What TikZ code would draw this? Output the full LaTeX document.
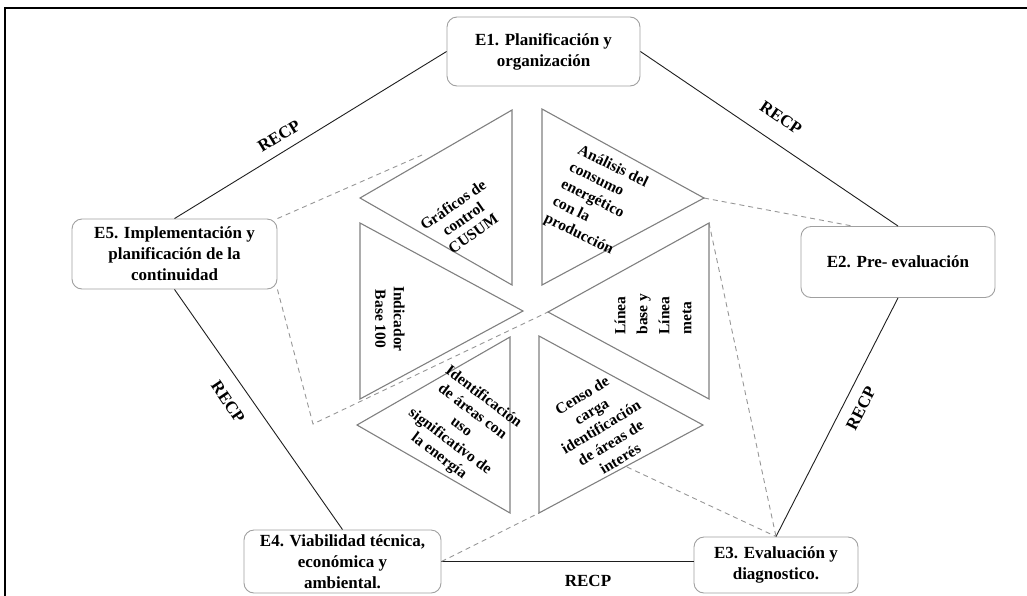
\documentclass[tikz,border=0pt]{standalone}
\usepackage{fontspec}
\setmainfont{Liberation Serif}
\usetikzlibrary{calc}
\definecolor{triline}{RGB}{128,128,128}
\definecolor{boxline}{RGB}{160,160,160}
\definecolor{dashline}{RGB}{150,150,150}
\definecolor{solidline}{RGB}{30,30,30}
\begin{document}
\begin{tikzpicture}[x=1pt,y=1pt,
  ebox/.style={draw=boxline, line width=0.9pt, rounded corners=10pt, fill=white, align=center,
    font=\bfseries\fontsize{17}{21}\selectfont, inner sep=0pt},
  tri/.style={draw=triline, line width=1.1pt, fill=white, line join=miter},
  trit/.style={align=center, font=\bfseries\fontsize{15.5}{18.5}\selectfont, inner sep=0pt},
  cyc/.style={draw=solidline, line width=0.9pt},
  dsh/.style={draw=dashline, line width=0.9pt, dash pattern=on 5pt off 4pt},
  recp/.style={font=\bfseries\fontsize{17}{20}\selectfont, inner sep=0pt}
  ]
\useasboundingbox (0,0) rectangle (1027,-595);
\begin{scope}
\clip (0,0) rectangle (1027,-595);
\draw[line width=1.8pt, black] (5,-620) |- (1060,-8);
\end{scope}

% boxes
\node[ebox, minimum width=193pt, minimum height=69pt] (E1) at (543.5,-51.5) {E1. Planificación y\\organización};
\node[ebox, minimum width=194pt, minimum height=71pt] (E2) at (898,-262) {E2. Pre- evaluación};
\node[ebox, minimum width=164pt, minimum height=56pt] (E3) at (776,-565) {E3. Evaluación y\\diagnostico.};
\node[ebox, minimum width=197pt, minimum height=63pt] (E4) at (342.5,-561.5) {E4. Viabilidad técnica,\\económica y\\ambiental.};
\node[ebox, minimum width=205pt, minimum height=70pt] (E5) at (174.5,-254) {E5. Implementación y\\planificación de  la\\continuidad};

% cycle lines
\draw[cyc] (E1.west) -- (E5.north);
\draw[cyc] (E1.east) -- (E2.north);
\draw[cyc] (E2.south) -- (E3.north);
\draw[cyc] (E4.east) -- (E4.east -| E3.west);
\draw[cyc] (E4.north) -- (E5.south);

% RECP labels
\node[recp, rotate=31.5] (r1) at (279,-136) {RECP};
\node[recp, rotate=-34] (r2) at (781,-118) {RECP};
\node[recp, rotate=63] (r3) at (861,-408) {RECP};
\node[recp, rotate=-56] (r4) at (228,-402) {RECP};
\node[recp] (r5) at (588,-581) {RECP};

% triangle vertices
\coordinate (gA) at (360,-198); \coordinate (gB) at (512,-110); \coordinate (gC) at (512,-285);
\coordinate (aA) at (542,-109); \coordinate (aB) at (542,-285); \coordinate (aC) at (704,-198);
\coordinate (iA) at (360,-223); \coordinate (iB) at (360,-399); \coordinate (iC) at (523,-311);
\coordinate (lA) at (709,-223); \coordinate (lB) at (709,-399); \coordinate (lC) at (548,-312);
\coordinate (dA) at (510,-337); \coordinate (dB) at (510,-513); \coordinate (dC) at (357,-425);
\coordinate (cA) at (539,-336); \coordinate (cB) at (539,-513); \coordinate (cC) at (703,-425);

% dashed guide lines
\coordinate (d1end) at (422,-155);
\coordinate (d2mid) at (313,-424);
\coordinate (d5start) at (627,-467);
\draw[dsh] (E5.north east) -- (d1end);
\draw[dsh] (E5.south east) -- (d2mid) -- (lC);
\draw[dsh] (aC) -- ($(E2.north west)+(52,0)$);
\draw[dsh] (lA) -- (E3.north);
\draw[dsh] (d5start) -- (E3.north);
\draw[dsh] (E4.east) -- (cB);

% triangles
\draw[tri] (gA) -- (gB) -- (gC) -- cycle;
\draw[tri] (aA) -- (aB) -- (aC) -- cycle;
\draw[tri] (iA) -- (iB) -- (iC) -- cycle;
\draw[tri] (lA) -- (lB) -- (lC) -- cycle;
\draw[tri] (dA) -- (dB) -- (dC) -- cycle;
\draw[tri] (cA) -- (cB) -- (cC) -- cycle;

% triangle texts
\node[trit, rotate=35, font=\bfseries\fontsize{15.5}{17.5}\selectfont] (tG) at (463,-219) {Gráficos de\\control\\CUSUM};
\node[trit, rotate=-26, align=left, font=\bfseries\fontsize{15.5}{19}\selectfont] (tA) at (596,-201) {Análisis del\\consumo\\energético\\con la\\producción};
\node[trit, rotate=-90] (tI) at (390,-319) {Indicador\\Base 100};
\node[trit, rotate=90, align=left, font=\bfseries\fontsize{15.5}{22}\selectfont] (tL) at (653,-314) {Línea\\base y\\Línea\\meta};
\node[trit, rotate=-37] (tD) at (461,-427) {Identificación\\de áreas con\\uso\\significativo de\\la energía};
\node[trit, rotate=31] (tC) at (601,-427) {Censo de\\carga\\identificación\\de áreas de\\interés};
\end{tikzpicture}
\end{document}
